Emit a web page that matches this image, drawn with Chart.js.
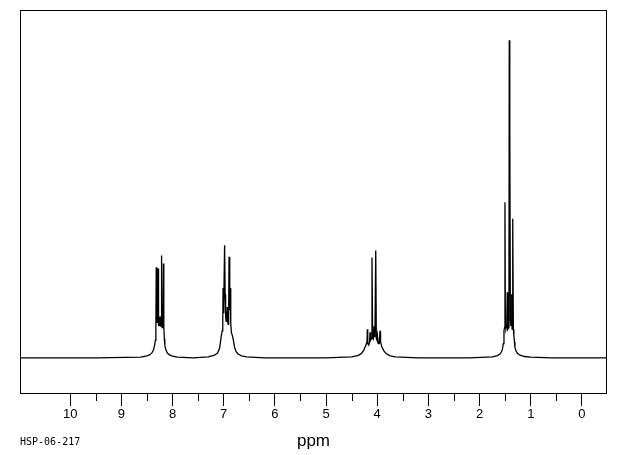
<!DOCTYPE html>
<html>
<head>
<meta charset="utf-8">
<title>HSP-06-217</title>
<script src="https://cdn.jsdelivr.net/npm/chart.js@4.4.1/dist/chart.umd.min.js"></script>
<style>
  html, body { margin: 0; padding: 0; background: #fff; }
  #wrap { width: 620px; height: 455px; position: relative; }
</style>
</head>
<body>
<div id="wrap"><canvas id="nmrChart"></canvas></div>
<script>
// spectrum id printed under the axis
const specLabel = 'HSP-06-217';

// half-ppm minor ticks
const minorTicks = [0.5, 1.5, 2.5, 3.5, 4.5, 5.5, 6.5, 7.5, 8.5, 9.5];

// baseline stretches between the multiplets (ppm, intensity)
const basePpm = [10.98, 9.5, 7.6, 6.2, 5.0, 3.2, 2.2, 0.6, -0.49];
const baseInt = [0, 0, 0, 0, 0, 0, 0, 0, 0];

// aromatic multiplet ~8.2 ppm
const aroA_ppm = [8.62, 8.50, 8.44, 8.40, 8.37, 8.35, 8.335, 8.325, 8.318, 8.312, 8.305, 8.298, 8.29, 8.283,
  8.276, 8.27, 8.262, 8.255, 8.247, 8.24, 8.232, 8.224, 8.217, 8.21, 8.202, 8.195, 8.187, 8.178, 8.17,
  8.16, 8.15, 8.13, 8.10, 8.06, 8.00, 7.90];
const aroA_int = [0.2, 0.6, 1.0, 1.6, 2.6, 4.0, 5.5, 9, 28.5, 14, 11, 13, 11, 28.1,
  12, 10, 13, 10, 12, 10, 13, 11, 32.2, 12, 9.5, 12, 11, 29.7, 10,
  6, 4, 2.5, 1.5, 0.9, 0.5, 0.2];

// aromatic multiplet ~6.93 ppm
const aroB_ppm = [7.30, 7.18, 7.12, 7.08, 7.05, 7.03, 7.018, 7.012, 7.004, 6.995, 6.982, 6.972, 6.962,
  6.952, 6.94, 6.93, 6.92, 6.91, 6.903, 6.895, 6.886, 6.877, 6.87, 6.862, 6.85, 6.83, 6.81, 6.79,
  6.76, 6.72, 6.65, 6.55];
const aroB_int = [0.3, 0.8, 1.5, 3, 6.5, 8.5, 11, 22, 14, 16, 35.4, 20, 13,
  11.5, 13, 16, 11, 10.5, 14, 31.8, 18, 15, 22, 11, 8, 7, 5.5, 3.5,
  2, 1.2, 0.6, 0.3];

// OCH2 quartet ~4.07 ppm
const ch2_ppm = [4.50, 4.38, 4.31, 4.26, 4.22, 4.20, 4.193, 4.185, 4.165, 4.15, 4.14, 4.13, 4.115, 4.102,
  4.09, 4.075, 4.06, 4.045, 4.029, 4.017, 4.005, 3.995, 3.98, 3.96, 3.945, 3.935, 3.91, 3.87,
  3.83, 3.76, 3.65];
const ch2_int = [0.3, 0.7, 1.3, 2.5, 4, 5, 9, 4.5, 4, 5, 8, 5.5, 6, 31.6,
  6.5, 6, 10, 6.5, 33.75, 6, 5.5, 7, 4.5, 4.5, 8.5, 5, 3.5, 2.2,
  1.4, 0.7, 0.3];

// CH3 triplet ~1.42 ppm
const ch3_ppm = [1.75, 1.65, 1.59, 1.556, 1.535, 1.523, 1.512, 1.504, 1.496, 1.485, 1.47, 1.459, 1.45,
  1.435, 1.426, 1.420, 1.413, 1.406, 1.398, 1.39, 1.38, 1.372, 1.364, 1.356, 1.348, 1.34, 1.33,
  1.318, 1.309, 1.29, 1.26, 1.21, 1.12, 1.00];
const ch3_int = [0.3, 0.7, 1.3, 2.5, 4.5, 8.5, 9.5, 49, 10, 9, 10, 20.6, 9,
  9.5, 15, 100, 30, 73.7, 12, 10, 11, 20, 9, 10, 43.75, 9, 7,
  5, 3.3, 2.2, 1.4, 0.8, 0.4, 0.2];

function toPoints(ppm, val) {
  return ppm.map((p, i) => ({ x: p, y: val[i] }));
}

const trace = [
  ...toPoints(basePpm, baseInt),
  ...toPoints(aroA_ppm, aroA_int),
  ...toPoints(aroB_ppm, aroB_int),
  ...toPoints(ch2_ppm, ch2_int),
  ...toPoints(ch3_ppm, ch3_int)
].sort((a, b) => b.x - a.x);

// frame, minor ticks and spectrum label
const framePlugin = {
  id: 'frame',
  afterDraw(chart) {
    const { ctx, chartArea: a } = chart;
    const xs = chart.scales.x;
    ctx.save();
    ctx.strokeStyle = '#000';
    ctx.lineWidth = 1;
    ctx.strokeRect(a.left + 0.5, a.top + 0.5, a.right - a.left - 1, a.bottom - a.top - 1);
    ctx.beginPath();
    minorTicks.forEach(v => {
      const px = Math.round(xs.getPixelForValue(v)) + 0.5;
      ctx.moveTo(px, a.bottom);
      ctx.lineTo(px, a.bottom + 7);
    });
    ctx.stroke();
    ctx.fillStyle = '#000';
    ctx.font = '10px "DejaVu Sans Mono"';
    ctx.textBaseline = 'middle';
    ctx.fillText(specLabel, 20, 442);
    ctx.restore();
  }
};

new Chart(document.getElementById('nmrChart'), {
  type: 'line',
  data: {
    datasets: [{
      data: trace,
      borderColor: '#000',
      borderWidth: 1.3,
      pointRadius: 0,
      tension: 0,
      fill: false
    }]
  },
  options: {
    responsive: true,
    maintainAspectRatio: false,
    animation: false,
    layout: { padding: { left: 20, right: 13, top: 10, bottom: 3 } },
    plugins: {
      legend: { display: false },
      tooltip: { enabled: false }
    },
    scales: {
      x: {
        type: 'linear',
        reverse: true,
        min: -0.49,
        max: 10.98,
        border: { display: false },
        grid: {
          display: true,
          drawOnChartArea: false,
          drawTicks: true,
          tickLength: 12,
          color: '#000',
          lineWidth: 1
        },
        ticks: {
          stepSize: 1,
          includeBounds: false,
          autoSkip: false,
          maxRotation: 0,
          padding: 1,
          color: '#000',
          font: { family: 'Liberation Sans', size: 13 }
        },
        title: {
          display: true,
          text: 'ppm',
          color: '#000',
          font: { family: 'Liberation Sans', size: 17 },
          padding: { top: 8, bottom: 0 }
        }
      },
      y: {
        display: false,
        min: -11.4,
        max: 109.5
      }
    }
  },
  plugins: [framePlugin]
});
</script>
</body>
</html>
